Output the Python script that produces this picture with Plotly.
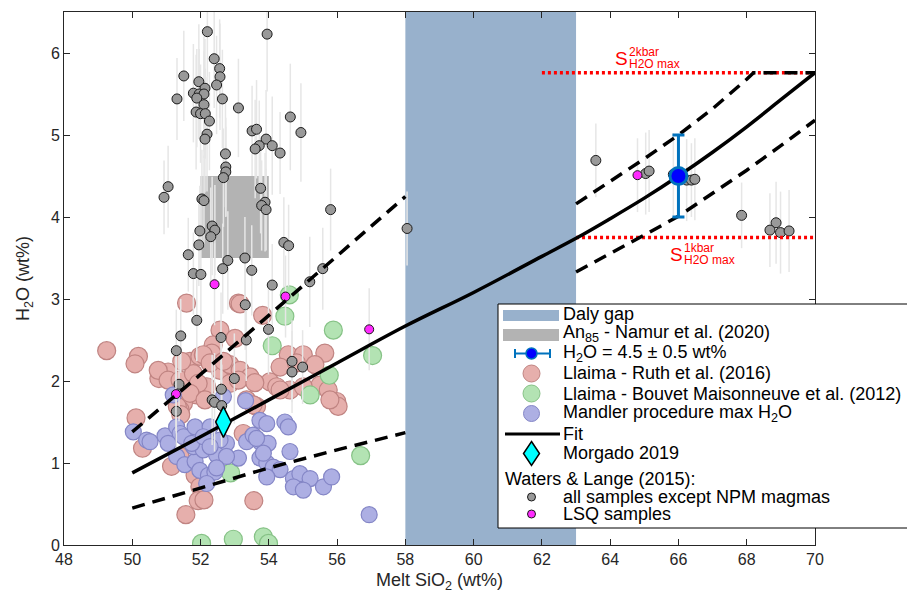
import plotly.graph_objects as go

# ---------------- data ----------------
daly_sio2 = [58, 63, 63, 58, 58]
daly_h2o = [0, 0, 6.5, 6.5, 0]

an85_sio2 = [52, 54, 54, 52, 52]
an85_h2o = [3.5, 3.5, 4.5, 4.5, 3.5]

# Llaima - Ruth et al. (2016)
ruth_sio2 = [49.25, 50.18, 50.08, 51.59, 53.11, 53.82, 52.57, 53.01, 52.37, 50.78,
             51.05, 50.76, 51.05, 51.40, 51.69, 51.98, 52.33, 51.79, 52.18, 52.57,
             52.86, 53.16, 53.45, 51.89, 51.50, 51.40, 52.86, 53.64, 53.35, 51.93,
             50.11, 50.30, 51.15, 51.40, 51.84, 51.98, 51.93, 52.10, 51.57, 53.56,
             53.25, 53.54, 54.57, 55.01, 55.64, 54.33, 54.81, 55.35, 53.11, 54.03,
             54.23, 54.62, 55.50, 55.74, 55.99, 56.03, 51.32, 51.42, 53.54, 51.45,
             52.08, 52.28, 52.67, 51.69, 52.13, 55.01, 54.33, 53.59, 55.79, 53.16]
ruth_h2o = [2.37, 2.30, 2.21, 2.95, 2.95, 2.80, 2.62, 2.52, 2.44, 2.03,
            2.11, 2.13, 2.01, 2.01, 2.24, 2.30, 2.34, 2.09, 1.93, 2.13,
            2.20, 2.13, 2.05, 1.83, 1.73, 1.65, 1.97, 1.69, 1.77, 1.97,
            1.55, 1.18, 0.96, 1.08, 0.85, 0.71, 0.54, 0.55, 0.37, 0.54,
            1.36, 1.32, 2.32, 2.32, 2.34, 2.17, 2.22, 2.20, 2.01, 1.99,
            1.93, 1.89, 1.95, 1.89, 1.75, 1.69, 1.69, 1.59, 1.71, 2.24,
            2.32, 2.22, 2.24, 1.85, 1.77, 1.93, 1.89, 1.98, 1.77, 2.94]

# Llaima - Bouvet Maisonneuve et al. (2012)
bouvet_sio2 = [54.60, 54.47, 55.89, 54.10, 57.04, 55.77, 55.21, 56.69, 53.84, 53.99,
               52.88, 52.03, 52.96]
bouvet_h2o = [3.05, 2.79, 2.62, 2.43, 2.31, 2.07, 1.83, 1.09, 0.10, 0.02,
              0.88, 0.02, 0.07]

# Mandler procedure max H2O
mandler_sio2 = [50.03, 50.42, 50.52, 50.96, 51.30, 51.40, 51.05, 51.30, 51.54, 51.84,
                51.98, 52.23, 52.42, 52.18, 51.79, 52.08, 52.37, 52.67, 52.76, 53.11,
                53.35, 53.54, 53.74, 53.98, 53.74, 53.94, 54.13, 54.33, 53.94, 53.74,
                53.94, 54.47, 54.57, 54.62, 54.72, 54.91, 55.21, 54.72, 55.01, 55.60,
                55.84, 56.94, 53.32, 52.67, 51.20, 51.50, 51.84, 51.74, 52.28, 52.57,
                52.47, 52.76, 52.47, 53.84, 53.64, 52.08, 52.28]
mandler_h2o = [1.38, 1.28, 1.26, 1.33, 1.44, 1.36, 1.24, 1.08, 0.98, 1.02,
               0.91, 0.85, 0.89, 0.75, 1.20, 1.16, 1.20, 1.14, 1.24, 1.06,
               1.26, 1.34, 1.26, 1.24, 1.06, 1.00, 0.95, 0.92, 0.83, 1.52,
               1.48, 1.50, 1.44, 1.14, 0.81, 0.87, 0.81, 0.71, 0.67, 0.71,
               0.83, 0.37, 1.76, 1.81, 1.83, 1.32, 1.44, 1.24, 1.44, 1.28,
               1.10, 1.08, 0.94, 1.12, 1.30, 1.32, 1.20]

# Waters & Lange (2015): all samples except NPM magmas
wl_sio2 = [52.20, 53.95, 52.40, 52.56, 52.57, 51.51, 52.47, 51.95, 52.13, 51.79,
           51.96, 52.10, 51.89, 51.31, 52.64, 52.10, 53.11, 51.87, 52.00, 52.14,
           52.26, 54.63, 54.94, 53.51, 53.64, 52.19, 52.13, 53.92, 53.72, 53.60,
           54.10, 54.33, 52.73, 52.74, 52.74, 52.67, 51.05, 53.76, 50.93, 52.04,
           52.10, 53.89, 53.79, 53.92, 55.81, 58.05, 52.34, 52.42, 52.30, 51.98,
           51.95, 54.44, 54.58, 51.64, 52.80, 52.65, 53.30, 53.50, 51.79, 52.01,
           55.58, 55.20, 54.10, 53.31, 51.89, 51.42, 51.29, 52.60, 53.34, 53.99,
           54.68, 54.99, 54.68, 51.37, 52.99, 52.61, 52.34, 52.41, 52.62, 51.29,
           63.58, 65.04, 65.14, 65.85, 66.24, 66.38, 66.48, 67.85, 68.86, 68.68,
           68.99, 69.24]
wl_h2o = [6.26, 6.23, 5.93, 5.81, 5.71, 5.72, 5.61, 5.65, 5.57, 5.51,
          5.50, 5.50, 5.45, 5.44, 5.44, 5.37, 5.33, 5.28, 5.26, 5.26,
          5.17, 5.22, 5.03, 5.05, 5.07, 5.01, 4.95, 4.95, 4.87, 4.83,
          4.87, 4.78, 4.77, 4.61, 4.55, 4.48, 4.37, 4.35, 4.24, 4.22,
          4.20, 4.18, 4.14, 4.09, 4.09, 3.86, 3.89, 3.84, 3.76, 3.83,
          3.66, 3.69, 3.65, 3.54, 3.47, 3.37, 3.50, 3.35, 3.31, 3.30,
          3.37, 3.21, 3.17, 2.93, 2.74, 2.55, 2.37, 2.53, 2.50, 2.63,
          2.24, 2.17, 2.11, 1.96, 2.03, 1.90, 1.77, 1.74, 1.70, 1.63,
          4.69, 4.53, 4.56, 4.52, 4.45, 4.45, 4.46, 4.02, 3.93, 3.84,
          3.81, 3.83]
wl_err = [0.55, 0.70, 0.60, 0.60, 0.65, 0.55, 0.60, 0.70, 0.60, 0.60,
          0.55, 0.70, 0.60, 0.50, 0.60, 0.65, 0.60, 0.70, 0.60, 0.55,
          0.60, 0.65, 0.60, 0.55, 0.60, 0.70, 0.65, 0.60, 0.55, 0.60,
          0.60, 0.50, 0.65, 0.60, 0.55, 0.60, 0.50, 0.55, 0.45, 0.60,
          0.55, 0.60, 0.55, 0.50, 0.50, 0.45, 0.60, 0.55, 0.60, 0.55,
          0.50, 0.55, 0.50, 0.45, 0.60, 0.55, 0.50, 0.55, 0.50, 0.55,
          0.50, 0.55, 0.50, 0.55, 0.50, 0.45, 0.50, 0.55, 0.50, 0.55,
          0.50, 0.45, 0.50, 0.45, 0.55, 0.60, 0.55, 0.60, 0.50, 0.45,
          0.45, 0.50, 0.50, 0.50, 0.50, 0.45, 0.50, 0.40, 0.50, 0.45,
          0.50, 0.50]

# Waters & Lange (2015): LSQ samples
lsq_sio2 = [52.41, 54.49, 51.28, 56.94, 64.80]
lsq_h2o = [3.18, 3.03, 1.84, 2.63, 4.51]
lsq_err = [0.50, 0.50, 0.45, 0.50, 0.45]

# Fit and its envelope
fit_sio2 = [50, 52, 54, 56, 58, 60, 62, 63, 64, 65, 66, 67, 68, 69, 70]
fit_h2o = [0.88, 1.32, 1.77, 2.22, 2.67, 3.08, 3.52, 3.74, 3.98, 4.23, 4.50, 4.79, 5.10, 5.43, 5.76]

up_mafic_sio2 = [50, 52, 54, 56, 58]
up_mafic_h2o = [1.38, 2.08, 2.80, 3.52, 4.25]
lo_mafic_sio2 = [50, 52, 54, 56, 58]
lo_mafic_h2o = [0.45, 0.70, 0.94, 1.16, 1.37]
up_felsic_sio2 = [63, 64, 65, 66, 67, 68, 68.2, 70]
up_felsic_h2o = [4.16, 4.43, 4.71, 5.00, 5.32, 5.68, 5.76, 5.76]
lo_felsic_sio2 = [63, 64, 65, 66, 67, 68, 69, 70]
lo_felsic_h2o = [3.33, 3.55, 3.78, 4.01, 4.29, 4.57, 4.87, 5.18]

# Saturation limits
sat2_sio2 = [62.0, 70.0]
sat2_h2o = [5.76, 5.76]
sat1_sio2 = [63.0, 70.0]
sat1_h2o = [3.75, 3.75]

target_sio2 = [66.0]
target_h2o = [4.5]
target_err = [0.5]

morgado_sio2 = [52.67]
morgado_h2o = [1.50]

# ---------------- styling ----------------
FONT = "Liberation Sans"
DALY = "#98B1CC"
AN85 = "#B3B3B3"
RUTH_FILL, RUTH_EDGE = "#E6AFAC", "#C08482"
BOUV_FILL, BOUV_EDGE = "#B3E3B3", "#86C286"
MAND_FILL, MAND_EDGE = "#ADAFE3", "#8486C6"
GRAY_FILL = "#999999"
MAGENTA = "#FF2BFF"
MBLUE = "#0072BD"
DASH = "13px,8px"

fig = go.Figure()

fig.add_trace(go.Scatter(x=daly_sio2, y=daly_h2o, mode="lines", fill="toself",
                         fillcolor=DALY, line=dict(width=0), hoverinfo="skip"))
fig.add_trace(go.Scatter(x=an85_sio2, y=an85_h2o, mode="lines", fill="toself",
                         fillcolor=AN85, line=dict(width=0), hoverinfo="skip"))

fig.add_trace(go.Scatter(x=ruth_sio2, y=ruth_h2o, mode="markers",
                         marker=dict(size=18, color=RUTH_FILL, line=dict(color=RUTH_EDGE, width=1.2))))
fig.add_trace(go.Scatter(x=bouvet_sio2, y=bouvet_h2o, mode="markers",
                         marker=dict(size=18, color=BOUV_FILL, line=dict(color=BOUV_EDGE, width=1.2))))
fig.add_trace(go.Scatter(x=mandler_sio2, y=mandler_h2o, mode="markers",
                         marker=dict(size=16, color=MAND_FILL, line=dict(color=MAND_EDGE, width=1.2))))

fig.add_trace(go.Scatter(x=wl_sio2, y=wl_h2o, mode="markers",
                         error_y=dict(type="data", array=wl_err, color="#E6E6E6", thickness=1.5, width=0),
                         marker=dict(size=10, color=GRAY_FILL, line=dict(color="#1A1A1A", width=1))))
fig.add_trace(go.Scatter(x=lsq_sio2, y=lsq_h2o, mode="markers",
                         error_y=dict(type="data", array=lsq_err, color="#E6E6E6", thickness=1.5, width=0),
                         marker=dict(size=9, color=MAGENTA, line=dict(color="#1A1A1A", width=1))))

for xs, ys in [(sat2_sio2, sat2_h2o), (sat1_sio2, sat1_h2o)]:
    fig.add_trace(go.Scatter(x=xs, y=ys, mode="lines",
                             line=dict(color="#FF0000", width=3.5, dash="3px,3px")))

for xs, ys in [(up_mafic_sio2, up_mafic_h2o), (lo_mafic_sio2, lo_mafic_h2o),
               (up_felsic_sio2, up_felsic_h2o), (lo_felsic_sio2, lo_felsic_h2o)]:
    fig.add_trace(go.Scatter(x=xs, y=ys, mode="lines",
                             line=dict(color="black", width=3.5, dash=DASH)))

fig.add_trace(go.Scatter(x=fit_sio2, y=fit_h2o, mode="lines", line_shape="spline",
                         line=dict(color="black", width=3.5)))

fig.add_trace(go.Scatter(x=target_sio2, y=target_h2o, mode="markers",
                         error_y=dict(type="data", array=target_err, color=MBLUE, thickness=3, width=6),
                         marker=dict(size=17, color="#0000FF", line=dict(color=MBLUE, width=3))))

fig.add_trace(go.Scatter(x=morgado_sio2, y=morgado_h2o, mode="markers",
                         marker=dict(symbol="diamond-tall", size=22, color="#00FFFF",
                                     line=dict(color="black", width=1.5))))

# ---------------- saturation labels ----------------
annos = []
for s_x, s_y, sup_txt in [(64.32, 5.93, "2kbar"), (65.93, 3.54, "1kbar")]:
    annos.append(dict(x=s_x, y=s_y, xref="x", yref="y", text="S", showarrow=False,
                      font=dict(family=FONT, size=19, color="#FF0000"),
                      xanchor="center", yanchor="middle"))
    annos.append(dict(x=s_x + 0.17, y=s_y + 0.08, xref="x", yref="y", text=sup_txt, showarrow=False,
                      font=dict(family=FONT, size=12, color="#FF0000"),
                      xanchor="left", yanchor="middle"))
    annos.append(dict(x=s_x + 0.17, y=s_y - 0.07, xref="x", yref="y", text="H2O max", showarrow=False,
                      font=dict(family=FONT, size=12, color="#FF0000"),
                      xanchor="left", yanchor="middle"))

# ---------------- legend (pixel layout) ----------------
W, H = 907, 602
ML, MR, MT, MB = 64, 92, 12, 57
PW, PH = W - ML - MR, H - MT - MB


def px(v):
    return (v - ML) / PW


def py(v):
    return (H - MB - v) / PH


shapes = [dict(type="rect", xref="paper", yref="paper", x0=px(498), x1=px(930),
               y0=py(528), y1=py(304), fillcolor="white", line=dict(color="black", width=1),
               layer="above")]

GX = 531.5  # glyph centre column
TX = 561    # label column


def patch(y0, y1, color):
    shapes.append(dict(type="rect", xref="paper", yref="paper", x0=px(503), x1=px(559),
                       y0=py(y1), y1=py(y0), fillcolor=color, line=dict(width=0), layer="above"))


def dot(yc, d, fill, edge, lw=1):
    r = d / 2
    shapes.append(dict(type="circle", xref="paper", yref="paper", xsizemode="pixel",
                       ysizemode="pixel", xanchor=px(GX), yanchor=py(yc),
                       x0=-r, x1=r, y0=-r, y1=r, fillcolor=fill,
                       line=dict(color=edge, width=lw), layer="above"))


def seg(x0, y0, x1, y1, color, w):
    shapes.append(dict(type="line", xref="paper", yref="paper", x0=px(x0), x1=px(x1),
                       y0=py(y0), y1=py(y1), line=dict(color=color, width=w), layer="above"))


rows = [
    (314, "Daly gap"),
    (334, "An<sub>85</sub> - Namur et al. (2020)"),
    (353.5, "H<sub>2</sub>O = 4.5 ± 0.5 wt%"),
    (373.5, "Llaima - Ruth et al. (2016)"),
    (393.5, "Llaima - Bouvet Maisonneuve et al. (2012)"),
    (413.5, "Mandler procedure max H<sub>2</sub>O"),
    (434, "Fit"),
    (453.5, "Morgado 2019"),
    (497, "all samples except NPM magmas"),
    (514, "LSQ samples"),
]

patch(310, 321, DALY)
patch(329, 341, AN85)
seg(515, 353.5, 550, 353.5, MBLUE, 2)
seg(515, 349, 515, 358, MBLUE, 2)
seg(550, 349, 550, 358, MBLUE, 2)
dot(353.5, 11, "#0000FF", MBLUE, 1.5)
dot(373.5, 17, RUTH_FILL, RUTH_EDGE)
dot(393.5, 17, BOUV_FILL, BOUV_EDGE)
dot(413.5, 16, MAND_FILL, MAND_EDGE)
seg(505, 434, 560, 434, "black", 3)
shapes.append(dict(type="path", xref="paper", yref="paper", xsizemode="pixel", ysizemode="pixel",
                   xanchor=px(GX), yanchor=py(453.5), path="M 0 12 L 8 0 L 0 -12 L -8 0 Z",
                   fillcolor="#00FFFF", line=dict(color="black", width=1.5), layer="above"))
dot(497, 8, GRAY_FILL, "#1A1A1A")
dot(514, 8, MAGENTA, "#1A1A1A")

for yc, txt in rows:
    annos.append(dict(x=px(TX), y=py(yc), xref="paper", yref="paper", text=txt, showarrow=False,
                      xanchor="left", yanchor="middle", font=dict(family=FONT, size=18, color="black")))
annos.append(dict(x=px(503), y=py(478.5), xref="paper", yref="paper", text="Waters & Lange (2015):",
                  showarrow=False, xanchor="left", yanchor="middle",
                  font=dict(family=FONT, size=18, color="black")))

axis_common = dict(showgrid=False, zeroline=False, showline=True, linecolor="#262626", linewidth=1,
                   mirror="ticks", ticks="inside", ticklen=6, tickcolor="#262626",
                   tickfont=dict(family=FONT, size=16, color="#262626"))

fig.update_layout(
    width=W, height=H,
    margin=dict(l=ML, r=MR, t=MT, b=MB),
    paper_bgcolor="white", plot_bgcolor="white",
    showlegend=False,
    xaxis=dict(range=[48, 70], dtick=2, tick0=48,
               title=dict(text="Melt SiO<sub>2</sub> (wt%)", standoff=6,
                          font=dict(family=FONT, size=18, color="#262626")),
               **axis_common),
    yaxis=dict(range=[0, 6.5], dtick=1, tick0=0,
               title=dict(text="H<sub>2</sub>O (wt%)", standoff=16,
                          font=dict(family=FONT, size=18, color="#262626")),
               **axis_common),
    shapes=shapes,
    annotations=annos,
)

fig.write_html("out.html")
